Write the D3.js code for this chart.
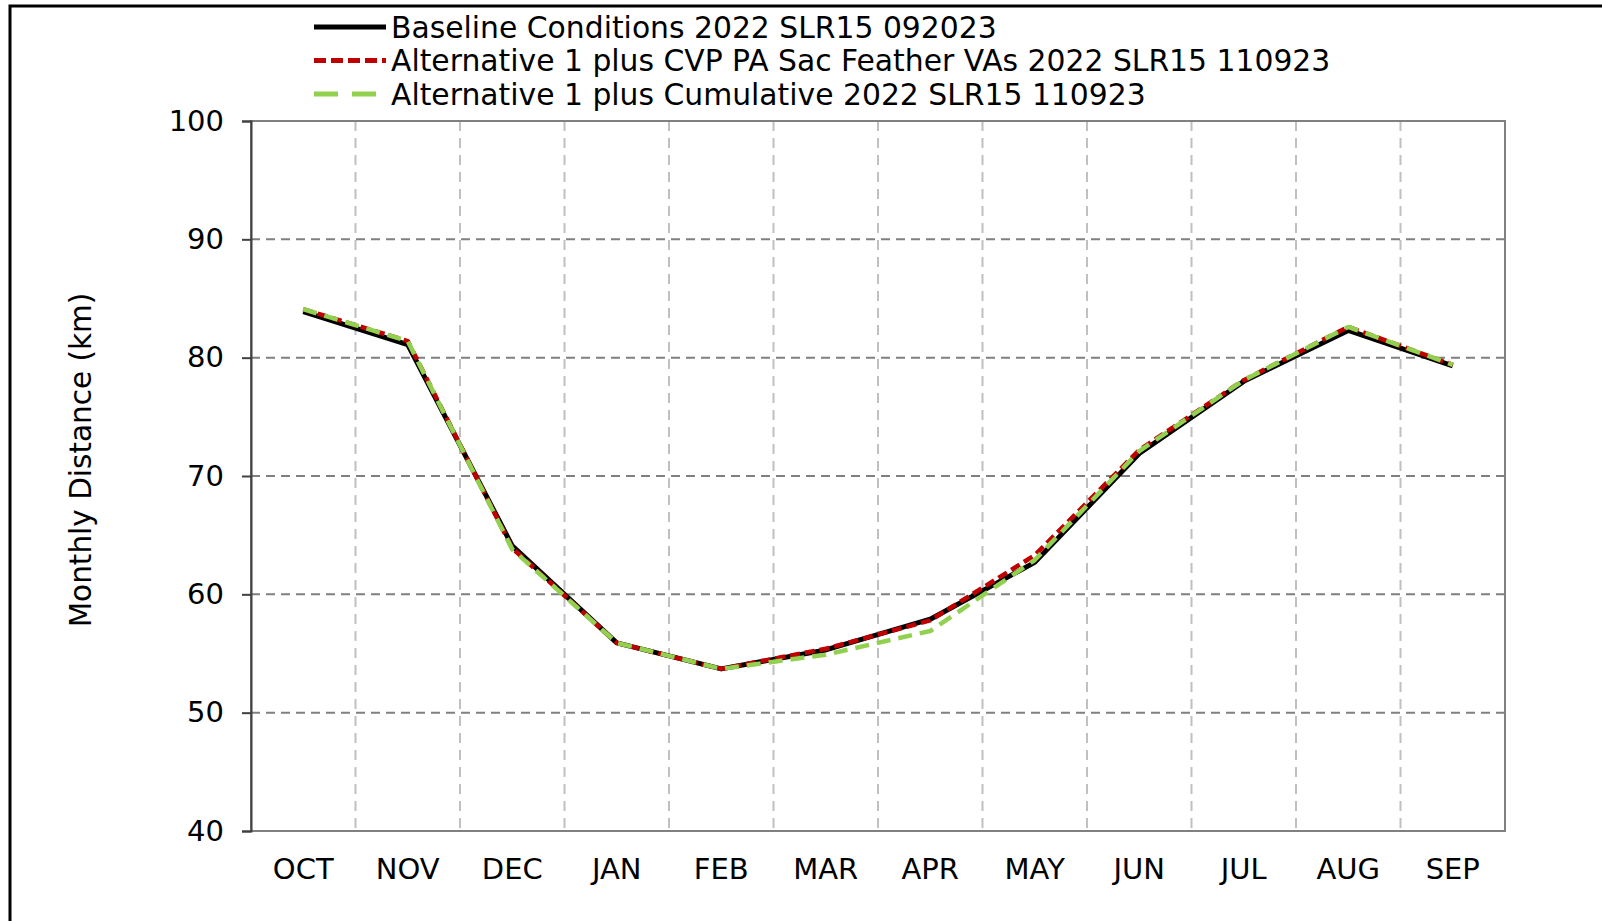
<!DOCTYPE html>
<html>
<head>
<meta charset="utf-8">
<script src="https://cdn.jsdelivr.net/npm/d3@7"></script>
<style>
  body { margin: 0; background: #fff; }
  text { font-family: "DejaVu Sans", Verdana, sans-serif; fill: #000; }
</style>
</head>
<body>
<div id="chart"></div>
<script>
// data
const months = ["OCT", "NOV", "DEC", "JAN", "FEB", "MAR", "APR", "MAY", "JUN", "JUL", "AUG", "SEP"];
const baseline = [83.9, 81.1, 64.1, 55.9, 53.7, 55.3, 57.9, 62.7, 71.9, 78.0, 82.3, 79.3];
const altCvp = [84.1, 81.4, 63.9, 55.9, 53.7, 55.4, 57.8, 63.3, 72.2, 78.1, 82.6, 79.4];
const altCumulative = [84.1, 81.4, 63.8, 55.9, 53.7, 54.9, 56.9, 62.9, 72.1, 78.1, 82.6, 79.4];
const yTicks = [40, 50, 60, 70, 80, 90, 100];
const seriesNames = [
  "Baseline Conditions 2022 SLR15 092023",
  "Alternative 1 plus CVP PA Sac Feather VAs 2022 SLR15 110923",
  "Alternative 1 plus Cumulative 2022 SLR15 110923"
];

const W = 1602, H = 921;
const margin = {top: 121, right: 97, bottom: 90, left: 251};
const width = W - margin.left - margin.right;
const height = H - margin.top - margin.bottom;

const svg = d3.select("#chart").append("svg")
  .attr("width", W)
  .attr("height", H);

// outer frame (only top and left edges show)
svg.append("rect")
  .attr("x", 10).attr("y", 6)
  .attr("width", W + 20).attr("height", H + 20)
  .attr("fill", "none")
  .attr("stroke", "#000")
  .attr("stroke-width", 3);

const g = svg.append("g")
  .attr("transform", `translate(${margin.left},${margin.top})`);

const xBand = d3.scaleBand().domain(months).range([0, width]);
const xScale = m => xBand(m) + xBand.bandwidth() / 2;
const yScale = d3.scaleLinear().domain([40, 100]).range([height, 0]);

// gridlines
g.append("g").selectAll("line")
  .data(months.slice(1))
  .join("line")
  .attr("x1", d => xBand(d)).attr("x2", d => xBand(d))
  .attr("y1", 0).attr("y2", height)
  .attr("stroke", "#c0c0c0")
  .attr("stroke-width", 2)
  .attr("stroke-dasharray", "10,7");

g.append("g").selectAll("line")
  .data(yTicks.slice(1, -1))
  .join("line")
  .attr("x1", 0).attr("x2", width)
  .attr("y1", d => yScale(d)).attr("y2", d => yScale(d))
  .attr("stroke", "#808080")
  .attr("stroke-width", 2)
  .attr("stroke-dasharray", "9,6");

// plot frame
g.append("rect")
  .attr("width", width).attr("height", height)
  .attr("fill", "none")
  .attr("stroke", "#808080")
  .attr("stroke-width", 2);

// y axis
const yAxis = d3.axisLeft(yScale).tickValues(yTicks).tickSize(9).tickPadding(18);
const ya = g.append("g").call(yAxis);
ya.select(".domain").attr("stroke", "#404040").attr("stroke-width", 2);
ya.selectAll(".tick line").attr("stroke", "#404040").attr("stroke-width", 2);
ya.selectAll(".tick text").style("font-size", "29px").attr("fill", "#000");

// x axis labels
const xAxis = d3.axisBottom(xBand).tickSize(0).tickPadding(27);
const xa = g.append("g").attr("transform", `translate(0,${height})`).call(xAxis);
xa.select(".domain").remove();
xa.selectAll(".tick text").style("font-size", "29px").attr("fill", "#000");

// y axis title
svg.append("text")
  .attr("transform", `translate(81,${margin.top + height / 2 - 16}) rotate(-90)`)
  .attr("text-anchor", "middle")
  .attr("dominant-baseline", "central")
  .style("font-size", "29.5px")
  .text("Monthly Distance (km)");

// series lines
const styles = [
  {color: "#000000", width: 5, dash: null, legendDash: null},
  {color: "#c00000", width: 4.5, dash: "10,5", legendDash: "12,5"},
  {color: "#92d050", width: 4.5, dash: "14,8", legendDash: "24,14"}
];
const allSeries = [baseline, altCvp, altCumulative];

const line = d3.line()
  .x((d, i) => xScale(months[i]))
  .y(d => yScale(d));

allSeries.forEach((s, i) => {
  g.append("path")
    .datum(s)
    .attr("fill", "none")
    .attr("stroke", styles[i].color)
    .attr("stroke-width", styles[i].width)
    .attr("stroke-dasharray", styles[i].dash)
    .attr("stroke-linejoin", "round")
    .attr("d", line);
});

// legend
const legend = svg.append("g").attr("transform", "translate(314,27)");
const rowH = 33.5;
seriesNames.forEach((name, i) => {
  const row = legend.append("g").attr("transform", `translate(0,${i * rowH})`);
  row.append("line")
    .attr("x1", 0).attr("x2", 72)
    .attr("stroke", styles[i].color)
    .attr("stroke-width", 5)
    .attr("stroke-dasharray", styles[i].legendDash);
  row.append("text")
    .attr("x", 77)
    .attr("dominant-baseline", "central")
    .style("font-size", "29.8px")
    .text(name);
});
</script>
</body>
</html>
